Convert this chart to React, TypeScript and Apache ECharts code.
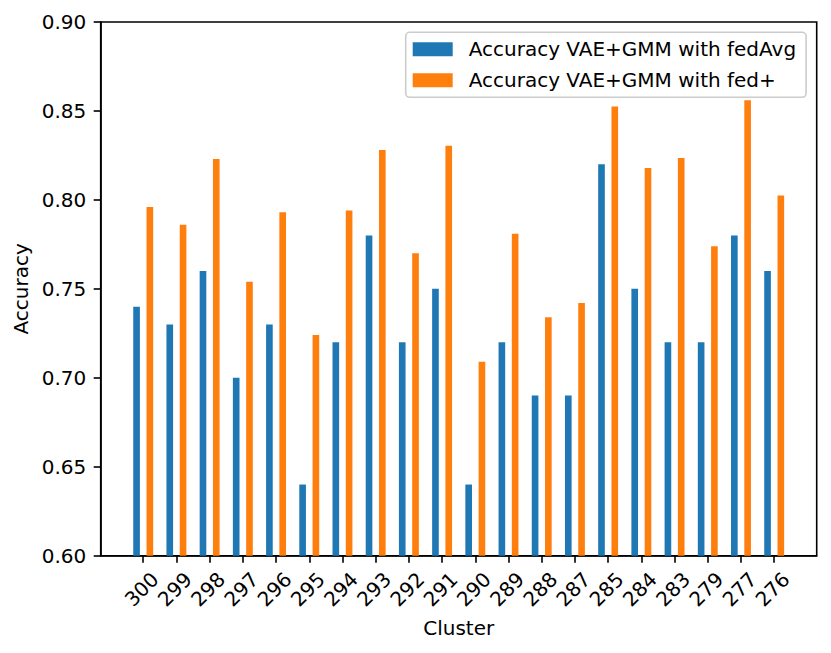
import React, { useEffect, useRef } from "react";
import * as echarts from "echarts";

const clusters = ["300", "299", "298", "297", "296", "295", "294", "293", "292", "291", "290", "289", "288", "287", "285", "284", "283", "279", "277", "276"];
const fedAvg = [0.74, 0.73, 0.76, 0.70, 0.73, 0.64, 0.72, 0.78, 0.72, 0.75, 0.64, 0.72, 0.69, 0.69, 0.82, 0.75, 0.72, 0.72, 0.78, 0.76];
const fedPlus = [0.796, 0.786, 0.823, 0.754, 0.793, 0.724, 0.794, 0.828, 0.770, 0.8305, 0.709, 0.781, 0.734, 0.742, 0.8525, 0.818, 0.8235, 0.774, 0.856, 0.8025];
const yTicks = [0.6, 0.65, 0.7, 0.75, 0.8, 0.85, 0.9];

const LABEL_SHIFT = 0.36;
const FONT = "DejaVu Sans";
const FS = 20;

export default function App() {
  const ref = useRef<HTMLDivElement>(null);
  useEffect(() => {
    const chart = echarts.init(ref.current!, null, { renderer: "svg" });
    const idx = clusters.map((_, i) => i);
    chart.setOption({
      animation: false,
      backgroundColor: "#ffffff",
      textStyle: { fontFamily: FONT },
      grid: {
        left: 100.7,
        right: 14.3,
        top: 22,
        bottom: 97.3,
        show: true,
        borderColor: "#000",
        borderWidth: 1.6,
        backgroundColor: "transparent",
      },
      legend: {
        orient: "vertical",
        left: 405.7,
        top: 32.3,
        icon: "rect",
        itemWidth: 40,
        itemHeight: 14,
        itemGap: 11,
        padding: [7, 10, 7, 7],
        backgroundColor: "rgba(255,255,255,0.8)",
        borderColor: "#cccccc",
        borderWidth: 1.6,
        borderRadius: 4,
        textStyle: { fontSize: FS, color: "#000", fontFamily: FONT, padding: [0, 0, 0, 11] },
        data: ["Accuracy VAE+GMM with fedAvg", "Accuracy VAE+GMM with fed+"],
      },
      xAxis: {
        type: "value",
        min: -1.28,
        max: 20.28,
        name: "Cluster",
        nameLocation: "middle",
        nameGap: 62,
        nameTextStyle: { fontSize: FS, color: "#000", fontFamily: FONT },
        splitLine: { show: false },
        axisLine: { show: true, onZero: false, lineStyle: { color: "#000", width: 1.6 } },
        axisTick: {
          show: true,
          customValues: idx,
          length: 7,
          lineStyle: { color: "#000", width: 1.6 },
        },
        axisLabel: {
          customValues: idx.map((i) => i + LABEL_SHIFT),
          formatter: (v: number) => clusters[Math.round(v - LABEL_SHIFT)] ?? "",
          rotate: 45,
          margin: 20,
          fontSize: FS,
          color: "#000",
          fontFamily: FONT,
        },
      },
      yAxis: {
        type: "value",
        min: 0.6,
        max: 0.9,
        interval: 0.05,
        name: "Accuracy",
        nameLocation: "middle",
        nameRotate: 90,
        nameGap: 60,
        nameTextStyle: { fontSize: FS, color: "#000", fontFamily: FONT },
        splitLine: { show: false },
        axisLine: { show: true, onZero: false, lineStyle: { color: "#000", width: 1.6 } },
        axisTick: { show: true, length: 7, lineStyle: { color: "#000", width: 1.6 } },
        axisLabel: {
          formatter: (v: number) => {
            const t = yTicks.find((y) => Math.abs(y - v) < 1e-6);
            return (t ?? v).toFixed(2);
          },
          margin: 14.5,
          fontSize: FS,
          color: "#000",
          fontFamily: FONT,
        },
      },
      series: [
        {
          name: "Accuracy VAE+GMM with fedAvg",
          type: "bar",
          barWidth: 6.64,
          barGap: "100%",
          itemStyle: { color: "#1f77b4" },
          data: fedAvg.map((v, i) => [i, v]),
        },
        {
          name: "Accuracy VAE+GMM with fed+",
          type: "bar",
          barWidth: 6.64,
          barGap: "100%",
          itemStyle: { color: "#ff7f0e" },
          data: fedPlus.map((v, i) => [i, v]),
        },
      ],
    });
    return () => chart.dispose();
  }, []);
  return (
    <div
      ref={ref}
      style={{ position: "fixed", left: 0, top: 0, width: 831, height: 653, background: "#fff" }}
    />
  );
}
